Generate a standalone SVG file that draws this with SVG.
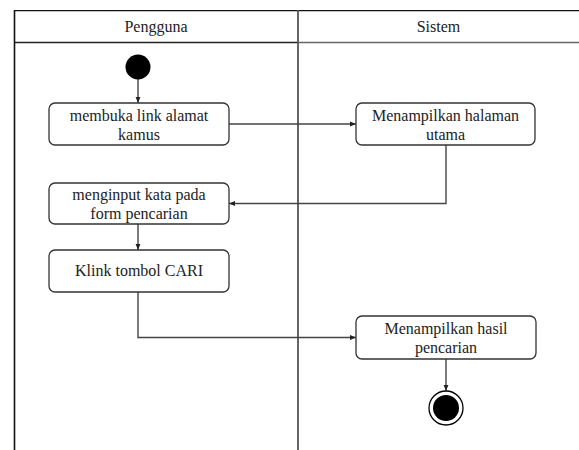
<svg xmlns="http://www.w3.org/2000/svg" width="579" height="450" viewBox="0 0 579 450">
  <defs>
    <style>
      .lane { stroke: #111; fill: none; }
      .box { fill: #fff; stroke: #333; stroke-width: 1.3; }
      .conn { fill: none; stroke: #444; stroke-width: 1.4; }
      text { font-family: 'Liberation Serif', 'Times New Roman', 'DejaVu Serif', serif; font-size: 16px; fill: #222; text-anchor: middle; }
    </style>
    <marker id="arr" viewBox="0 0 10 10" refX="10" refY="5" markerWidth="6" markerHeight="6" markerUnits="userSpaceOnUse" orient="auto">
      <path d="M0,1 L10,5 L0,9 z" fill="#222"/>
    </marker>
  </defs>
  <rect width="579" height="450" fill="#fff"/>
  <g id="swimlanes">
    <line class="lane" x1="14.5" y1="10.7" x2="579" y2="10.7" stroke-width="1.3"/>
    <line class="lane" x1="14.5" y1="42.5" x2="298" y2="42.5" stroke-width="1.6" style="stroke:#222"/>
    <line class="lane" x1="298" y1="42.5" x2="579" y2="42.5" stroke-width="1.6" style="stroke:#666"/>
    <line class="lane" x1="14.5" y1="10" x2="14.5" y2="450" stroke-width="1.6"/>
    <line class="lane" x1="298" y1="10" x2="298" y2="450" stroke-width="1.8" style="stroke:#555"/>
    <text x="156" y="32" font-family="Liberation Serif, serif">Pengguna</text>
    <text x="438.5" y="32" font-family="Liberation Serif, serif">Sistem</text>
  </g>
  <g id="connectors">
    <line class="conn" x1="138" y1="79" x2="138" y2="103" marker-end="url(#arr)"/>
    <line class="conn" x1="229" y1="124" x2="356" y2="124" marker-end="url(#arr)"/>
    <polyline class="conn" points="446,145 446,203.5 229,203.5" marker-end="url(#arr)"/>
    <line class="conn" x1="138" y1="224" x2="138" y2="250" marker-end="url(#arr)"/>
    <polyline class="conn" points="138,292 138,337.5 356,337.5" marker-end="url(#arr)"/>
    <line class="conn" x1="446" y1="359" x2="446" y2="391" marker-end="url(#arr)"/>
  </g>
  <g id="start">
    <circle cx="138" cy="67" r="12.5" fill="#000"/>
  </g>
  <g id="membuka">
    <rect class="box" x="49" y="103" width="180" height="42" rx="6"/>
    <text x="139" y="121">membuka link alamat</text>
    <text x="139" y="140">kamus</text>
  </g>
  <g id="halaman-utama">
    <rect class="box" x="356" y="103" width="179" height="42" rx="6"/>
    <text x="445.5" y="121">Menampilkan halaman</text>
    <text x="445.5" y="140">utama</text>
  </g>
  <g id="menginput">
    <rect class="box" x="49" y="183" width="180" height="41" rx="6"/>
    <text x="139" y="200">menginput kata pada</text>
    <text x="139" y="219">form pencarian</text>
  </g>
  <g id="klik-cari">
    <rect class="box" x="49" y="250" width="180" height="42" rx="6"/>
    <text x="139" y="276">Klink tombol CARI</text>
  </g>
  <g id="hasil">
    <rect class="box" x="356" y="316" width="180" height="43" rx="6"/>
    <text x="446" y="334">Menampilkan hasil</text>
    <text x="446" y="353">pencarian</text>
  </g>
  <g id="end">
    <circle cx="446" cy="408" r="17" fill="#fff" stroke="#000" stroke-width="1.3"/>
    <circle cx="446" cy="408" r="13" fill="#000"/>
  </g>
</svg>
